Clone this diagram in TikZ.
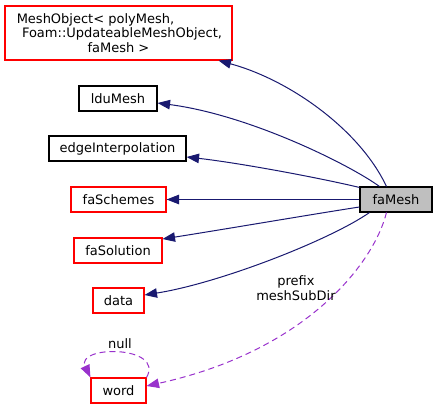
\documentclass[tikz,border=0pt]{standalone}
\usepackage{fontspec}
\setmainfont{DejaVu Sans}
\usetikzlibrary{arrows.meta}
\definecolor{navyedge}{RGB}{25,25,112}
\definecolor{orchidedge}{RGB}{153,50,204}
\definecolor{boxred}{RGB}{255,0,0}
\definecolor{grayfill}{RGB}{191,191,191}
\begin{document}
\begin{tikzpicture}[x=1pt,y=-1pt,
  box/.style={draw=black,line width=1.1pt,inner sep=0pt,align=center,
    font=\fontsize{13}{14.5}\selectfont},
  redbox/.style={box,draw=boxred},
  inh/.style={draw=navyedge,line width=1pt,
    -{Triangle[length=12.5pt,width=9.5pt,fill=navyedge]}},
  use/.style={draw=orchidedge,line width=1pt,dash pattern=on 6pt off 4pt,
    -{Triangle[length=12.5pt,width=9.5pt,fill=orchidedge]}},
  lbl/.style={font=\fontsize{13}{14.5}\selectfont,align=center,inner sep=0pt}]
\useasboundingbox (0,0) rectangle (436,409);
\node[redbox,minimum width=227pt,minimum height=54pt] (mo) at (118.5,33)
  {MeshObject< polyMesh,\hspace*{46pt}\\ \hspace*{7pt}Foam::UpdateableMeshObject,\\ faMesh >};
\node[box,minimum width=78pt,minimum height=25pt] (ldu) at (118,98.5) {lduMesh};
\node[box,minimum width=137pt,minimum height=25pt] (ei) at (117.5,148.5) {edgeInterpolation};
\node[redbox,minimum width=95pt,minimum height=25pt] (fs) at (118.5,199.5) {faSchemes};
\node[redbox,minimum width=88pt,minimum height=25pt] (fsol) at (118,250.5) {faSolution};
\node[redbox,minimum width=51pt,minimum height=25pt] (data) at (118.5,300.5) {data};
\node[redbox,minimum width=55pt,minimum height=25pt] (word) at (118.5,390.5) {word};
\node[box,fill=grayfill,minimum width=72pt,minimum height=25pt] (fa) at (396,199.5) {faMesh};
% inheritance / usage edges
\draw[inh] ([xshift=27pt]fa.north west) .. controls (360,130) and (290,80) .. ([xshift=-14pt]mo.south east);
\draw[inh] ([xshift=20pt]fa.north west) .. controls (350,165) and (250,115) .. ([yshift=-4.5pt]ldu.east);
\draw[inh] ([yshift=-1pt]fa.north west) .. controls (320,178) and (240,163) .. ([yshift=-8.5pt]ei.east);
\draw[inh] (fa.west) -- (fs.east);
\draw[inh] ([yshift=-7.5pt]fa.west) .. controls (320,213) and (220,230) .. ([yshift=11.5pt]fsol.east);
\draw[inh] ([xshift=10pt]fa.south west) .. controls (330,240) and (220,283) .. ([yshift=5.5pt]data.east);
\draw[use] ([xshift=27pt]fa.south west) .. controls (375,260) and (310,350) .. ([yshift=4.5pt]word.east);
\draw[use] (word.north east) .. controls (165,345) and (75,345) .. (word.north west);
\node[lbl] (lab1) at (296,288) {prefix\\meshSubDir};
\node[lbl] (lab2) at (120,344) {null};
\end{tikzpicture}
\end{document}
